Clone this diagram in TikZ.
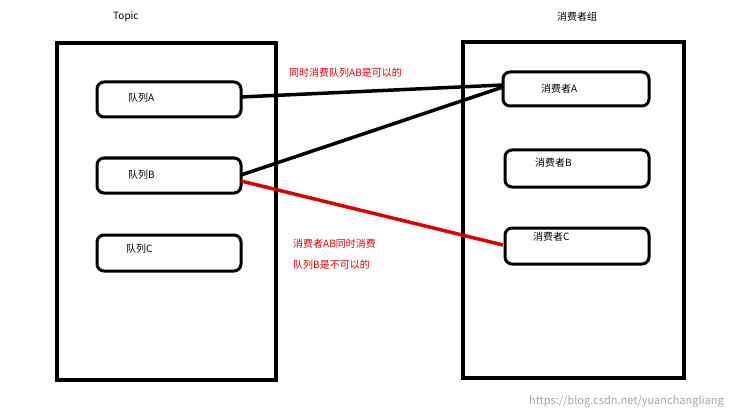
\documentclass[tikz,border=0pt]{standalone}
\usepackage{fontspec}
\setmainfont{Noto Sans CJK SC}
\begin{document}
\begin{tikzpicture}[x=1pt,y=-1pt,
  big/.style={draw,line width=3.5pt},
  box/.style={draw,line width=3pt,rounded corners=7pt},
  lbl/.style={font=\fontsize{10}{12}\selectfont,anchor=west,inner sep=0},
  red lbl/.style={lbl,text=red!85!black},
  conn/.style={line width=3.5pt}]
\useasboundingbox[fill=white] (0,0) rectangle (732,420);
\node[lbl] (topic) at (113,17) {Topic};
\node[lbl] (grp) at (557,17) {消费者组};
\draw[big] (57,43) rectangle (276,380);
\draw[big] (463,42) rectangle (684,378);
\draw[box] (97,82) rectangle (241,117); \node[lbl] (qa) at (128,98) {队列A};
\draw[box] (97,158) rectangle (241,193); \node[lbl] (qb) at (128,175) {队列B};
\draw[box] (97,235) rectangle (241,271); \node[lbl] (qc) at (126,249) {队列C};
\draw[box] (503,72) rectangle (649,106); \node[lbl] (ca) at (541,89) {消费者A};
\draw[box] (505,150) rectangle (649,187); \node[lbl] (cb) at (535,163) {消费者B};
\draw[box] (505,228) rectangle (649,264); \node[lbl] (cc) at (533,237) {消费者C};
\coordinate (a1) at (241,97); \coordinate (a2) at (503,85);
\coordinate (b1) at (241,175); \coordinate (b2) at (503,87);
\coordinate (r1) at (241,181); \coordinate (r2) at (503,245);
\draw[conn] (a1) -- (a2);
\draw[conn] (b1) -- (b2);
\draw[conn,red!85!black] (r1) -- (r2);
\node[red lbl] (t1) at (289,73) {同时消费队列AB是可以的};
\node[red lbl] (t2) at (293,244) {消费者AB同时消费};
\node[red lbl] (t3) at (293,265) {队列B是不可以的};
\node[lbl,anchor=east,text=gray!70,font=\fontsize{11}{13}\selectfont] (wm) at (724,401) {https://blog.csdn.net/yuanchangliang};
\end{tikzpicture}
\end{document}
